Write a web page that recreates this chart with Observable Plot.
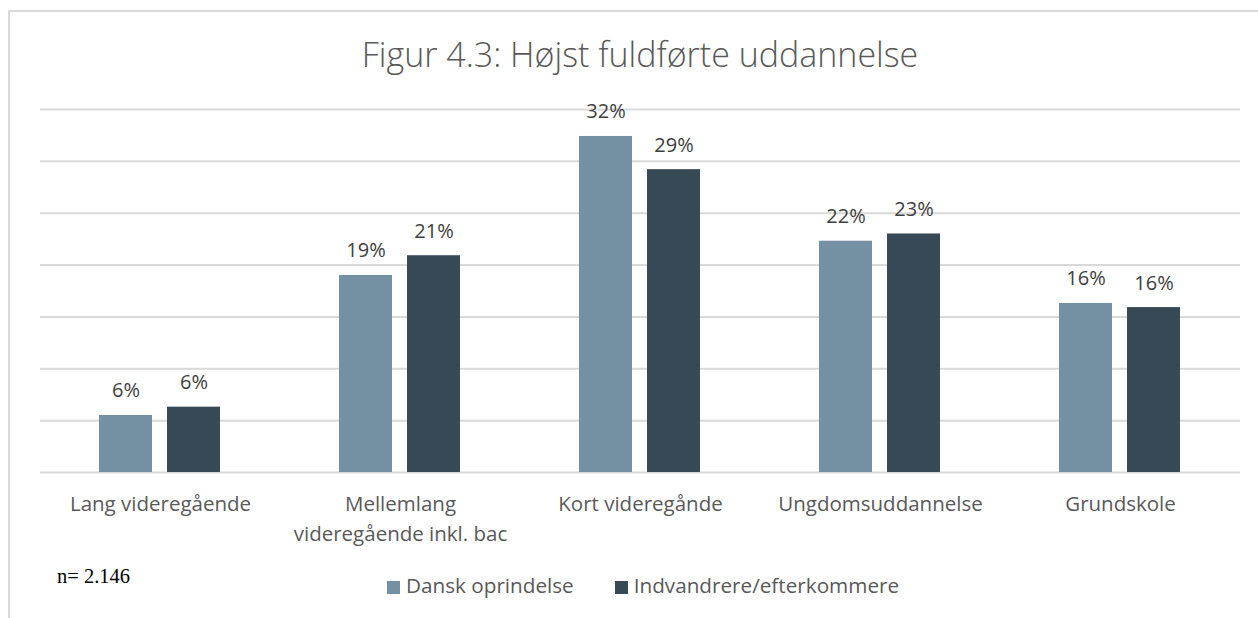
<!DOCTYPE html>
<html>
<head>
<meta charset="utf-8">
<script src="https://cdn.jsdelivr.net/npm/d3@7"></script>
<script src="https://cdn.jsdelivr.net/npm/@observablehq/plot@0.6"></script>
<style>
  html, body { margin: 0; padding: 0; background: #fff; }
  #wrap { position: relative; width: 1258px; height: 618px; overflow: hidden; font-family: "Open Sans", sans-serif; }
  #frame { position: absolute; left: 8px; top: 10px; width: 1400px; height: 800px; border: 2px solid #d9d9d9; box-sizing: border-box; }
  #title { position: absolute; left: 0; top: 37px; width: 1280px; text-align: center; font-size: 34px; line-height: 34px; color: #595959; font-weight: 300; white-space: nowrap; }
  #chart { position: absolute; left: 0; top: 80px; }
  #note { position: absolute; left: 57px; top: 566px; font-family: "Liberation Serif", "Times New Roman", serif; font-size: 20.5px; line-height: 20.5px; color: #000; white-space: nowrap; }
  #legend { position: absolute; left: 387px; top: 575px; display: flex; align-items: center; font-size: 20.7px; line-height: 20.7px; color: #595959; white-space: nowrap; }
  .item { display: flex; align-items: center; }
  .sw { width: 13px; height: 13px; margin-right: 6px; margin-top: 4px; }
</style>
</head>
<body>
<div id="wrap">
  <div id="frame"></div>
  <div id="title"></div>
  <div id="chart"></div>
  <div id="note"></div>
  <div id="legend"></div>
</div>
<script>
// ---- data ----
const titleText = "Figur 4.3: Højst fuldførte uddannelse";
const noteText = "n= 2.146";
const categories = ["Lang videregående", "Mellemlang videregående inkl. bac", "Kort videregånde", "Ungdomsuddannelse", "Grundskole"];
const categoryLabels = ["Lang videregående", "Mellemlang\nvideregående inkl. bac", "Kort videregånde", "Ungdomsuddannelse", "Grundskole"];
const series = ["Dansk oprindelse", "Indvandrere/efterkommere"];
const danskValues = [5.5, 19.0, 32.4, 22.3, 16.3];
const indvandrerValues = [6.3, 20.9, 29.2, 23.0, 15.9];
const danskLabels = ["6%", "19%", "32%", "22%", "16%"];
const indvandrerLabels = ["6%", "21%", "29%", "23%", "16%"];
const gridTicks = [0, 5, 10, 15, 20, 25, 30, 35];
const colors = ["#7491a3", "#374955"];

// ---- table ----
const rows = categories.flatMap((c, i) => [
  {cat: c, series: series[0], value: danskValues[i], label: danskLabels[i]},
  {cat: c, series: series[1], value: indvandrerValues[i], label: indvandrerLabels[i]}
]);
const catRows = categories.map((c, i) => ({cat: c, label: categoryLabels[i]}));

const chart = Plot.plot({
  width: 1258,
  height: 480,
  marginTop: 29,
  marginBottom: 88,
  marginLeft: 38,
  marginRight: 16,
  style: {fontFamily: "Open Sans, sans-serif", background: "transparent"},
  fx: {domain: categories, padding: 0, axis: null, label: null},
  x: {domain: series, axis: null, paddingInner: 0.215, paddingOuter: 0.867},
  y: {domain: [0, 35], axis: null},
  color: {domain: series, range: colors},
  marks: [
    Plot.ruleY(gridTicks, {stroke: "#d9d9d9", strokeWidth: 2}),
    Plot.barY(rows, {fx: "cat", x: "series", y: "value", fill: "series"}),
    Plot.text(rows, {fx: "cat", x: "series", y: "value", text: "label", lineAnchor: "bottom", dy: -18, fontSize: 20, fill: "#404040"}),
    Plot.text(catRows, {fx: "cat", text: "label", frameAnchor: "bottom", lineAnchor: "top", dy: 18, lineHeight: 1.43, fontSize: 20.5, fill: "#595959"})
  ]
});
document.getElementById("chart").appendChild(chart);
document.getElementById("title").textContent = titleText;
document.getElementById("note").textContent = noteText;

const legend = document.getElementById("legend");
series.forEach((s, i) => {
  const item = document.createElement("div");
  item.className = "item";
  if (i > 0) item.style.marginLeft = "41px";
  const sw = document.createElement("span");
  sw.className = "sw";
  sw.style.background = colors[i];
  const t = document.createElement("span");
  t.textContent = s;
  item.appendChild(sw);
  item.appendChild(t);
  legend.appendChild(item);
});
</script>
</body>
</html>
